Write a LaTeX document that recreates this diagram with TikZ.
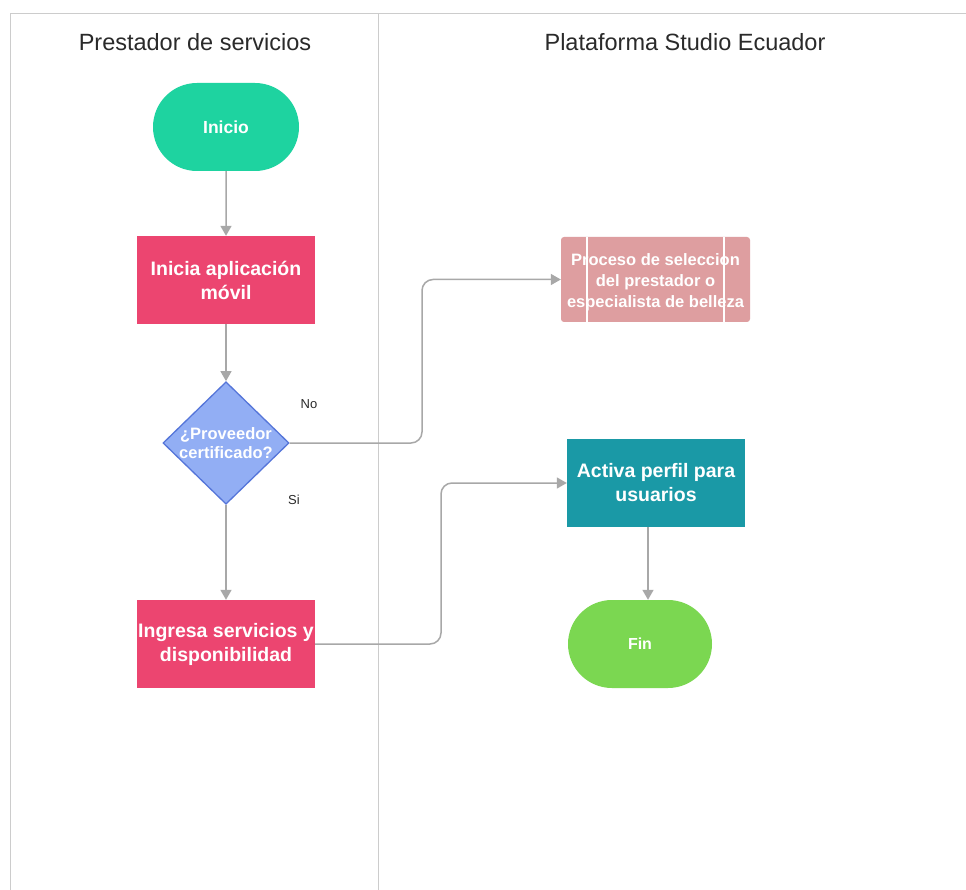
\documentclass[tikz,border=0pt]{standalone}
\usepackage{fontspec}
\setmainfont{Liberation Sans}
\usetikzlibrary{shapes.geometric,shapes.misc,arrows.meta,calc}
\definecolor{laneline}{HTML}{CCCCCC}
\definecolor{arrowgray}{HTML}{A8A8A8}
\definecolor{startgreen}{RGB}{30,211,160}
\definecolor{steppink}{RGB}{236,69,112}
\definecolor{decfill}{HTML}{92AEF4}
\definecolor{decdraw}{HTML}{5575D9}
\definecolor{subpink}{RGB}{222,158,160}
\definecolor{activeteal}{HTML}{1A99A6}
\definecolor{endgreen}{HTML}{7BD751}
\definecolor{headtext}{HTML}{2A2A2A}
\tikzset{
  stadium/.style={rounded rectangle, minimum width=146pt, minimum height=88pt,
    inner sep=0pt, text=white, font=\bfseries\fontsize{17.5}{21}\selectfont},
  stepbox/.style={rectangle, minimum width=178pt, minimum height=88pt,
    inner sep=0pt, align=center, text=white, font=\bfseries\fontsize{19.5}{24}\selectfont},
  decision/.style={diamond, aspect=1.03, minimum width=124pt, minimum height=120pt,
    inner sep=0pt, fill=decfill, draw=decdraw, line width=1.3pt, align=center,
    text=white, font=\bfseries\fontsize{16.5}{19.5}\selectfont},
  flow/.style={draw=arrowgray, line width=1.5pt, rounded corners=11pt,
    -{Triangle[width=11pt,length=10pt]}},
  lane/.style={draw=laneline, line width=1pt},
  lanehead/.style={text=headtext, font=\fontsize{23.5}{28}\selectfont},
  branch/.style={text=headtext, font=\fontsize{13}{16}\selectfont}
}
\begin{document}
\begin{tikzpicture}[x=1pt,y=-1pt]
  \useasboundingbox (0,0) rectangle (966,890);
  \fill[white] (0,0) rectangle (966,890);

  % swimlane frame
  \coordinate (frameTL) at (10,14);
  \coordinate (frameTR) at (966,14);
  \coordinate (frameBL) at (10,890);
  \coordinate (divT) at (378,14);
  \coordinate (divB) at (378,890);
  \draw[lane] (frameTL) -- (frameTR);
  \draw[lane] (frameTL) -- (frameBL);
  \draw[lane] (divT) -- (divB);

  \node[lanehead] (laneA) at (195,42) {Prestador de servicios};
  \node[lanehead] (laneB) at (685,42) {Plataforma Studio Ecuador};

  % left lane
  \node[stadium, fill=startgreen] (inicio) at (226,127) {Inicio};
  \node[stepbox, fill=steppink] (app) at (226,280) {Inicia aplicación\\móvil};
  \node[decision] (cert) at (226,443) {¿Proveedor\\certificado?};
  \node[stepbox, fill=steppink] (ingresa) at (226,644) {Ingresa servicios y\\disponibilidad};

  % right lane
  \node[rectangle, rounded corners=3pt, fill=subpink, minimum width=189pt,
        minimum height=85pt, inner sep=0pt] (proceso) at (655.5,279.5) {};
  \draw[white, line width=1.6pt] ($(proceso.north west)+(26,0)$) -- ($(proceso.south west)+(26,0)$);
  \draw[white, line width=1.6pt] ($(proceso.north east)+(-26,0)$) -- ($(proceso.south east)+(-26,0)$);
  \node[align=center, text=white, font=\bfseries\fontsize{16.5}{21}\selectfont]
        (procesotxt) at ($(proceso.center)+(0,3)$) {Proceso de seleccion\\del prestador o\\especialista de belleza};
  \node[stepbox, fill=activeteal] (activa) at (656,483) {Activa perfil para\\usuarios};
  \node[stadium, fill=endgreen, minimum width=144pt, font=\bfseries\fontsize{16}{19}\selectfont] (fin) at (640,644) {Fin};

  % connectors
  \draw[flow] (inicio) -- (app);
  \draw[flow] (app) -- (cert.north);
  \draw[flow] (cert.south) -- (ingresa);
  \draw[flow] (cert.east) -| (422,380) |- (proceso.west);
  \draw[flow] (ingresa.east) -| (441,560) |- (activa.west);
  \coordinate (drop) at (648,0);
  \draw[flow] (activa.south -| drop) -- (fin.north -| drop);

  \node[branch] (lblno) at (309,404) {No};
  \node[branch] (lblsi) at (294,500) {Si};
\end{tikzpicture}
\end{document}
